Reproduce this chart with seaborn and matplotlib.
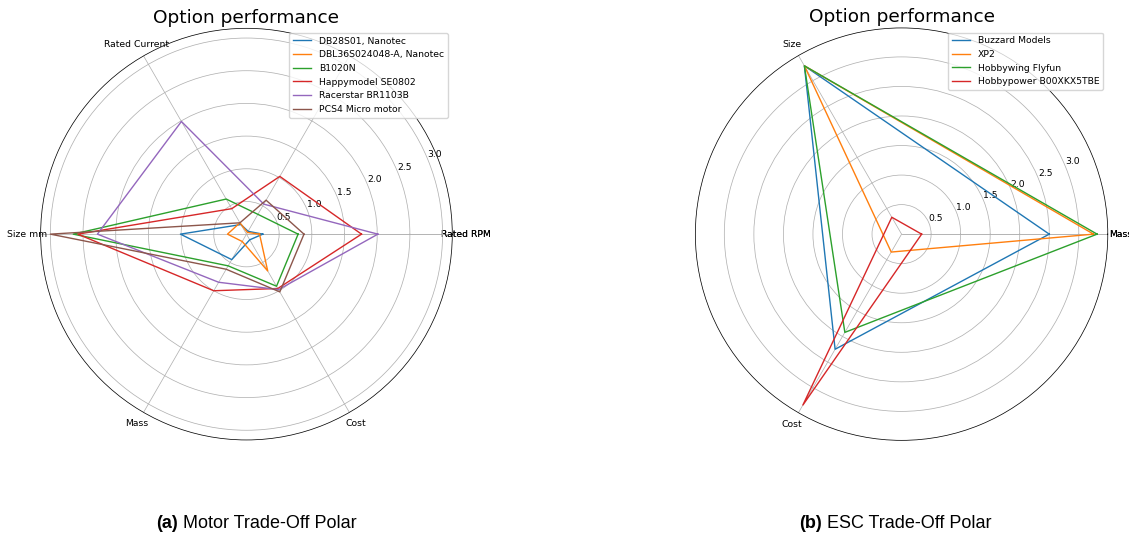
import numpy as np
import pandas as pd
import matplotlib
matplotlib.use("Agg")
import matplotlib.pyplot as plt
import seaborn as sns

# Motor trade-off scores (one value per spoke, in spoke order)
motor_axes = ["Rated RPM", "", "Rated Current", "Size mm", "Mass", "Cost"]
motor_names = ["DB28S01, Nanotec", "DBL36S024048-A, Nanotec", "B1020N",
               "Happymodel SE0802", "Racerstar BR1103B", "PCS4 Micro motor"]
db28s01 = [0.25, 0.05, 0.17, 1.01, 0.45, 0.10]
dbl36s024048 = [0.20, 0.03, 0.20, 0.29, 0.13, 0.65]
b1020n = [0.79, 0.35, 0.62, 2.65, 0.56, 0.92]
happymodel_se0802 = [1.76, 1.02, 0.45, 2.58, 1.00, 0.96]
racerstar_br1103b = [2.01, 0.53, 1.99, 2.28, 0.85, 0.98]
pcs4_micro = [0.88, 0.60, 0.20, 3.00, 0.62, 1.02]
motor_scores = [db28s01, dbl36s024048, b1020n, happymodel_se0802,
                racerstar_br1103b, pcs4_micro]

# ESC trade-off scores
esc_axes = ["Mass", "Size", "Cost"]
esc_names = ["Buzzard Models", "XP2", "Hobbywing Flyfun", "Hobbypower B00XKX5TBE"]
buzzard_models = [2.50, 3.29, 2.25]
xp2 = [3.25, 3.29, 0.35]
hobbywing_flyfun = [3.31, 3.29, 1.92]
hobbypower = [0.34, 0.33, 3.34]
esc_scores = [buzzard_models, xp2, hobbywing_flyfun, hobbypower]

radial_ticks = [0.5, 1.0, 1.5, 2.0, 2.5, 3.0]

plt.rcParams.update({
    "font.size": 6.7,
    "xtick.labelsize": 6.7,
    "ytick.labelsize": 6.7,
    "legend.fontsize": 6.7,
    "lines.linewidth": 1.0,
    "grid.linewidth": 0.53,
    "axes.linewidth": 0.53,
    "xtick.major.size": 2.33,
    "xtick.major.pad": 0.2,
    "ytick.major.pad": 2.33,
})
palette = sns.color_palette("tab10")


def radar(ax, spokes, names, scores):
    n = len(spokes)
    angles = np.linspace(0, 2 * np.pi, n, endpoint=False)
    closed = np.concatenate([angles, [2 * np.pi]])
    rows = []
    for name, vals in zip(names, scores):
        for a, v in zip(closed, list(vals) + [vals[0]]):
            rows.append({"theta": a, "score": v, "option": name})
    df = pd.DataFrame(rows)
    sns.lineplot(data=df, x="theta", y="score", hue="option", hue_order=names,
                 palette=palette[:len(names)], sort=False, estimator=None,
                 legend=False, linewidth=1.0, ax=ax)
    all_vals = np.concatenate([np.asarray(s) for s in scores])
    top = all_vals.max() + 0.05 * (all_vals.max() - all_vals.min())
    ax.set_ylim(0, top)
    ax.set_thetagrids(np.degrees(closed), list(spokes) + [spokes[0]])
    ax.set_rticks(radial_ticks)
    ax.set_xlabel("")
    ax.set_ylabel("")
    ax.set_title("Option performance", fontsize=13.3, pad=4)
    ax.legend(ax.lines[:len(names)], names, loc="upper right")


fig = plt.figure(figsize=(11.29, 5.42), dpi=100)
ax_motor = fig.add_axes([0.0360, 0.187, 0.3646, 0.762], projection="polar")
ax_esc = fig.add_axes([0.6159, 0.187, 0.3653, 0.762], projection="polar")

radar(ax_motor, motor_axes, motor_names, motor_scores)
radar(ax_esc, esc_axes, esc_names, esc_scores)

# Sub-figure captions: bold tag followed by a plain description, centred
renderer = fig.canvas.get_renderer()
cap = dict(family="Liberation Sans", fontsize=13, va="baseline",
           transform=None)


def caption(center_px, tag, text, base_px=14):
    t1 = fig.text(0, base_px, tag, ha="left", weight="bold", **cap)
    t2 = fig.text(0, base_px, " " + text, ha="left", **cap)
    w1 = t1.get_window_extent(renderer).width
    w2 = t2.get_window_extent(renderer).width
    left = center_px - (w1 + w2) / 2
    t1.set_position((left, base_px))
    t2.set_position((left + w1, base_px))


caption(256, "(a)", "Motor Trade-Off Polar")
caption(895, "(b)", "ESC Trade-Off Polar")

fig.savefig("out.png", dpi=100)
